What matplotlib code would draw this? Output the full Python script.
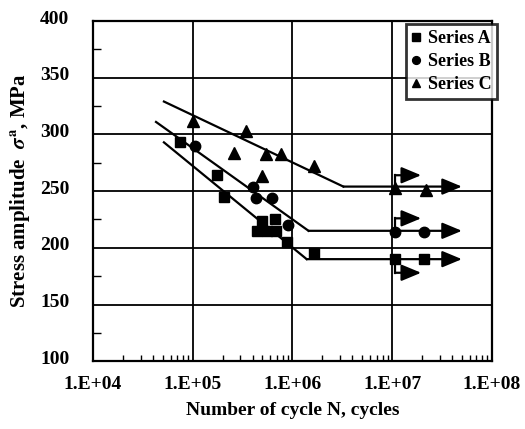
import numpy as np
import matplotlib.pyplot as plt
import matplotlib.transforms as mtransforms
from matplotlib.ticker import FuncFormatter, LogLocator, MultipleLocator

plt.rcParams['font.family'] = ['Liberation Serif', 'DejaVu Serif']
plt.rcParams['font.weight'] = 'bold'
plt.rcParams['mathtext.fontset'] = 'stix'

# test data
a_n = [7.4e4, 1.74e5, 2.07e5, 5.0e5, 6.7e5, 4.4e5, 5.5e5, 6.9e5, 8.9e5, 1.63e6, 1.07e7, 2.1e7]
a_s = [293, 264, 245, 224, 225, 215, 215, 215, 205, 195, 190, 190]
b_n = [1.05e5, 4.0e5, 4.3e5, 6.2e5, 9.1e5, 1.07e7, 2.1e7]
b_s = [290, 254, 244, 244, 220, 214, 214]
c_n = [1.0e5, 2.6e5, 3.4e5, 5.0e5, 5.4e5, 7.6e5, 1.64e6, 1.07e7, 2.18e7]
c_s = [312, 284, 303, 263, 283, 283, 272, 253, 251]

# fitted S-N lines: start, knee (then horizontal to the arrow tip)
a_fit_n = [5.15e4, 1.39e6]
a_fit_s = [293, 190]
b_fit_n = [4.29e4, 1.45e6]
b_fit_s = [311, 215]
c_fit_n = [5.15e4, 3.24e6]
c_fit_s = [329, 254]
arrow_end = 5e7

# run-out bent arrows at 1e7: (start stress, bent stress)
runout_n = 1.07e7
runout_tip = 1.95e7
runout_a = (190, 178)
runout_b = (214, 226)
runout_c = (253, 264)

fig = plt.figure(figsize=(5.25, 4.29), dpi=100)
ax = fig.add_axes([0.177, 0.158, 0.760, 0.793])

arrow_kw = dict(arrowstyle='-|>,head_length=1.2,head_width=0.5', mutation_scale=10,
                color='black', lw=1.6, shrinkA=0, shrinkB=0)

for fn, fs in [(a_fit_n, a_fit_s), (b_fit_n, b_fit_s), (c_fit_n, c_fit_s)]:
    ax.plot(fn, fs, color='black', lw=1.6)
    ax.annotate('', xy=(arrow_end, fs[-1]), xytext=(fn[-1], fs[-1]), arrowprops=arrow_kw)

for s0, s1 in [runout_a, runout_b, runout_c]:
    ax.plot([runout_n, runout_n], [s0, s1], color='black', lw=1.6)
    ax.annotate('', xy=(runout_tip, s1), xytext=(runout_n, s1), arrowprops=arrow_kw)

ax.plot(a_n, a_s, 's', color='black', ms=7.5, label='Series A', zorder=5)
ax.plot(b_n, b_s, 'o', color='black', ms=7.5, label='Series B', zorder=5)
ax.plot(c_n, c_s, '^', color='black', ms=8.5, label='Series C', zorder=5)

ax.set_xscale('log')
ax.set_xlim(1e4, 1e8)
ax.set_ylim(100, 400)
ax.xaxis.set_major_locator(LogLocator(base=10, numticks=10))
ax.xaxis.set_minor_locator(LogLocator(base=10, subs=np.arange(2, 10), numticks=10))
ax.xaxis.set_major_formatter(FuncFormatter(lambda v, p: '1.E+%02d' % int(round(np.log10(v)))))
ax.yaxis.set_major_locator(MultipleLocator(50))
ax.yaxis.set_minor_locator(MultipleLocator(25))

ax.grid(True, which='major', color='black', lw=1.3)
ax.tick_params(which='major', length=0, labelsize=14)
ax.tick_params(axis='x', which='major', pad=11)
ax.tick_params(axis='y', which='major', pad=17)
ax.tick_params(axis='x', which='minor', direction='in', length=4, width=1)
ax.tick_params(axis='y', which='minor', direction='in', length=6, width=1)
shift_up = mtransforms.ScaledTranslation(0, 4 / 100, fig.dpi_scale_trans)
for lab in ax.get_yticklabels():
    lab.set_transform(lab.get_transform() + shift_up)
for lab in ax.get_xticklabels() + ax.get_yticklabels():
    lab.set_fontweight('bold')
for sp in ax.spines.values():
    sp.set_linewidth(1.6)

ax.set_xlabel('Number of cycle N, cycles', fontsize=14, fontweight='bold', labelpad=6)
ax.set_ylabel(r'Stress amplitude  $\sigma^{\mathbf{a}}$, MPa', fontsize=15, fontweight='bold', labelpad=6)

leg = ax.legend(loc='upper right', bbox_to_anchor=(1.012, 0.99), frameon=True, fancybox=False,
                edgecolor='black', handlelength=0.5, handletextpad=0.4, borderpad=0.3,
                borderaxespad=0.0, labelspacing=0.35, markerscale=0.75,
                prop={'weight': 'bold', 'size': 13})
leg.get_frame().set_linewidth(2)
leg.set_zorder(10)

fig.savefig('out.png', dpi=100)
